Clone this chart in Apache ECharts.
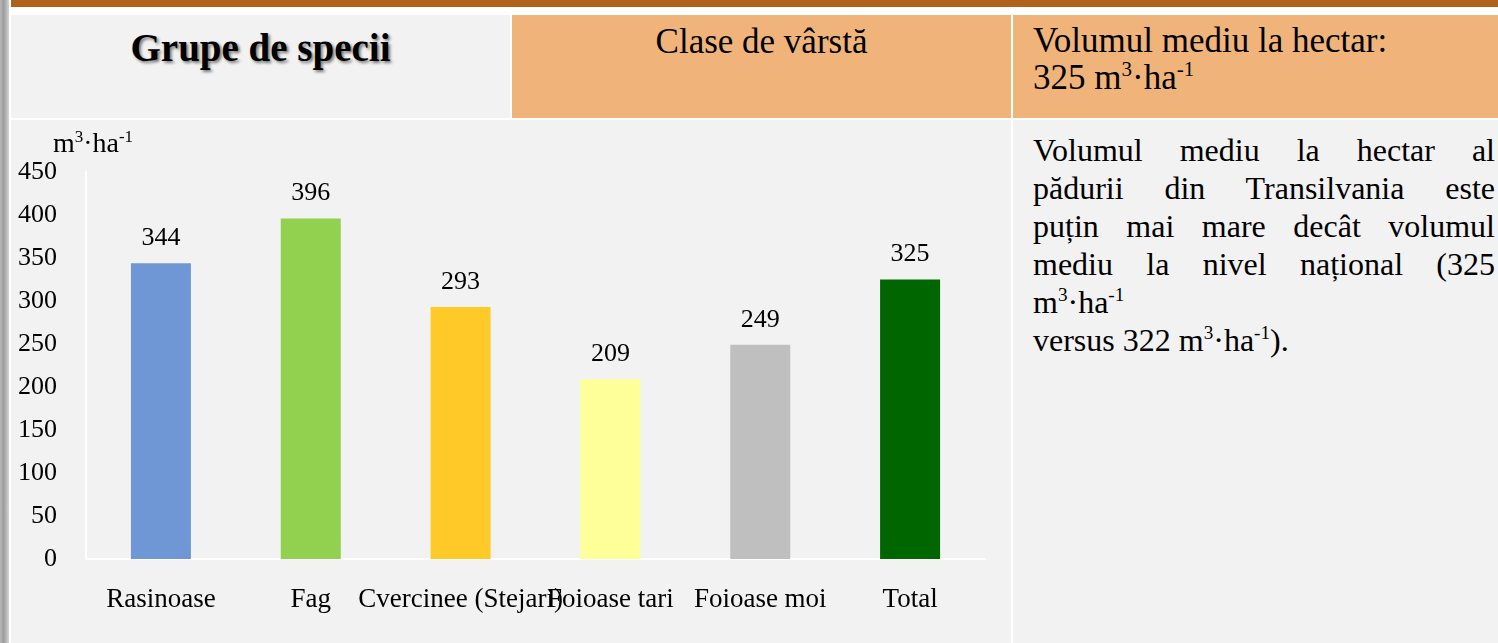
<!DOCTYPE html>
<html>
<head>
<meta charset="utf-8">
<script src="https://cdn.jsdelivr.net/npm/echarts@6/dist/echarts.min.js"></script>
<style>
  html, body { margin: 0; padding: 0; width: 1498px; height: 643px; overflow: hidden; background: #fff; }
  body { position: relative; font-family: "Liberation Serif", serif; color: #000; }
  .box { position: absolute; box-sizing: border-box; }
  .strip { left: 0; top: 0; width: 9px; height: 643px; background: linear-gradient(to right, #b8b8b8, #9c9c9c 40%, #d4d4d4); }
  .topbar { left: 11px; top: 0; width: 1487px; height: 7px; background: #b1621a; }
  .gray { background: #f2f2f2; }
  .orange { background: #f0b47a; }
  .h1 { left: 11px; top: 15px; width: 499px; height: 103px; }
  .h2 { left: 512px; top: 15px; width: 499px; height: 103px; }
  .h3 { left: 1013px; top: 15px; width: 485px; height: 103px; }
  .r1 { left: 11px; top: 120px; width: 1000px; height: 523px; }
  .r2 { left: 1013px; top: 120px; width: 485px; height: 523px; }
  .title { position: absolute; left: 0; right: 0; text-align: center; }
  sup { font-size: 60%; line-height: 0; }
  .para { position: absolute; left: 20px; width: 462px; top: 11px; font-size: 32px; line-height: 38px; }
  .para .j { text-align: justify; text-align-last: justify; }
  #chart { position: absolute; left: 0; top: 0; width: 1498px; height: 643px; }
</style>
</head>
<body>
<div class="box strip"></div>
<div class="box topbar"></div>
<div class="box gray h1">
  <div class="title" style="top:10px;font-size:39px;font-weight:bold;text-shadow:2px 2px 3px #777;">Grupe de specii</div>
</div>
<div class="box orange h2">
  <div class="title" style="top:7px;font-size:35px;">Clase de vârstă</div>
</div>
<div class="box orange h3">
  <div style="position:absolute;left:20px;top:7px;font-size:35px;line-height:37px;">Volumul mediu la hectar:<br>325 m<sup>3</sup>·ha<sup>-1</sup></div>
</div>
<div class="box gray r1"></div>
<div class="box gray r2">
  <div class="para">
    <div class="j">Volumul mediu la hectar al</div>
    <div class="j">pădurii din Transilvania este</div>
    <div class="j">puțin mai mare decât volumul</div>
    <div class="j">mediu la nivel național (325</div>
    <div>m<sup>3</sup>·ha<sup>-1</sup></div>
    <div>versus 322 m<sup>3</sup>·ha<sup>-1</sup>).</div>
  </div>
</div>
<div id="chart"></div>
<script>
// date grafic
var categorii = ['Rasinoase', 'Fag', 'Cvercinee (Stejari)', 'Foioase tari', 'Foioase moi', 'Total'];
var volume = [344, 396, 293, 209, 249, 325];
var culori = ['#7097d5', '#92d050', '#ffca28', '#ffff99', '#bfbfbf', '#006600'];
var yTicks = [0, 50, 100, 150, 200, 250, 300, 350, 400, 450];

var chart = echarts.init(document.getElementById('chart'), null, { renderer: 'canvas' });
var font = '"Liberation Serif", serif';

var option = {
  backgroundColor: 'transparent',
  animation: false,
  textStyle: { fontFamily: font },
  grid: { left: 86, top: 172, right: 1498 - 985, bottom: 643 - 559, containLabel: false },
  xAxis: {
    type: 'category',
    data: categorii,
    axisLine: { lineStyle: { color: '#ffffff', width: 2 } },
    axisTick: { show: false },
    axisLabel: { interval: 0, color: '#000', fontSize: 27, fontFamily: font, margin: 27, hideOverlap: false }
  },
  yAxis: {
    type: 'value',
    min: yTicks[0],
    max: yTicks[yTicks.length - 1],
    interval: 50,
    name: '{b|m}{s|3}{b|·ha}{s|-1}',
    nameLocation: 'end',
    nameGap: 10,
    nameTextStyle: {
      padding: [0, 0, 0, 14],
      rich: {
        b: { fontSize: 28, lineHeight: 30, fontFamily: font, color: '#000', verticalAlign: 'bottom' },
        s: { fontSize: 17, lineHeight: 17, fontFamily: font, color: '#000', verticalAlign: 'top' }
      }
    },
    axisLine: { show: true, lineStyle: { color: '#ffffff', width: 2 } },
    axisTick: { show: false },
    splitLine: { show: false },
    axisLabel: { color: '#000', fontSize: 26, fontFamily: font, margin: 29 }
  },
  series: [{
    type: 'bar',
    barWidth: 60,
    data: volume.map(function (v, i) {
      return { value: v, itemStyle: { color: culori[i] } };
    }),
    label: {
      show: true,
      position: 'top',
      distance: 12,
      color: '#000',
      fontSize: 26,
      fontFamily: font
    }
  }]
};

chart.setOption(option);
</script>
</body>
</html>
